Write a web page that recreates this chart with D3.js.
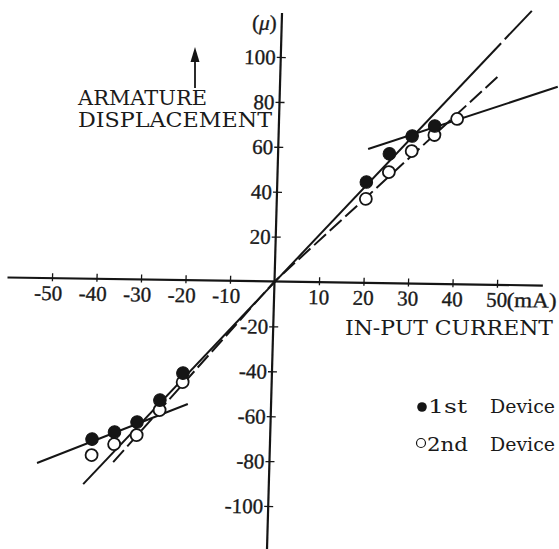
<!DOCTYPE html>
<html><head><meta charset="utf-8">
<script src="https://cdn.jsdelivr.net/npm/d3@7"></script>
<style>
html,body{margin:0;padding:0;background:#fff;}
svg{display:block;}
text{fill:#1a1a1a;}
.tk{font-family:"Liberation Serif","Times New Roman",serif;font-size:21px;stroke:#1a1a1a;stroke-width:0.35px;}
.lb{font-family:"DejaVu Serif",serif;}
</style></head>
<body>
<script>
// ---- data ----
const xTicks = [-50,-40,-30,-20,-10,10,20,30,40,50];
const yTicks = [-100,-80,-60,-40,-20,20,40,60,80,100];
const currentFirst = [-40,-35,-30,-25,-20,20,25,30,35];
const dispFirst    = [-71.4,-68.1,-63.5,-53.6,-41.4,44.9,57.6,65.7,70.3];
const currentSecond = [-40,-35,-30,-25,-20,20,25,30,35,40];
const dispSecond    = [-78.5,-73.5,-69.3,-58.0,-45.4,37.4,49.5,59.0,66.3,73.6];
const fitFirstA  = [[-41.7,-91.5],[49.4,107.6]];
const fitFirstB  = [[50.2,109.4],[56.1,122.2]];
const fitSecond  = [[-35.1,-81.5],[0,0],[49.3,93.5]];
const satUpper   = [[20.2,59.6],[62.4,88.6]];
const satLower   = [[-52.2,-82.4],[-18.7,-55.1]];
const xAxisRange = [-60,60.3];
const yAxisRange = [-122,119.6];
const legendLabels = [["1st","Device"],["2nd","Device"]];

// ---- layout ----
const W=559,H=549, ox=274.5, oy=281.5;
const svg=d3.select("body").append("svg").attr("width",W).attr("height",H);
const x=d3.scaleLinear().domain([-50,50]).range([ox-222.5, ox+222.5]);
const y=d3.scaleLinear().domain([-100,100]).range([oy+224.5, oy-224.5]);
const ink="#151515";

const g=svg.append("g").attr("transform",`translate(${ox},${oy}) matrix(1,0.015,-0.028,1,0,0) translate(${-ox},${-oy})`);

// axis lines
g.append("line").attr("x1",x(xAxisRange[0])).attr("x2",x(xAxisRange[1])).attr("y1",y(0)).attr("y2",y(0))
 .attr("stroke",ink).attr("stroke-width",2.2);
g.append("line").attr("x1",x(0)).attr("x2",x(0)).attr("y1",y(yAxisRange[0])).attr("y2",y(yAxisRange[1]))
 .attr("stroke",ink).attr("stroke-width",2.2);

// x axis ticks
const xa=g.append("g").attr("transform",`translate(0,${y(0)})`)
 .call(d3.axisBottom(x).tickValues(xTicks).tickSizeOuter(0).tickFormat(d=>String(d)));
xa.attr("font-family",null).attr("font-size",null);
xa.select(".domain").remove();
xa.selectAll(".tick line").attr("y1",-5).attr("y2",3).attr("stroke",ink).attr("stroke-width",1.3);
xa.selectAll(".tick text").attr("class","tk").attr("y",22).attr("dy",null).attr("x",10).attr("text-anchor","end")
 .attr("fill","#1a1a1a");

// (mA) unit
g.append("text").attr("class","tk").attr("x",x(50)+10).attr("y",y(0)+22)
 .attr("textLength",50).attr("lengthAdjust","spacingAndGlyphs").text("(mA)");

// y axis ticks
const ya=g.append("g").attr("transform",`translate(${x(0)},0)`)
 .call(d3.axisLeft(y).tickValues(yTicks).tickSizeOuter(0).tickFormat(d=>String(d)));
ya.attr("font-family",null).attr("font-size",null);
ya.select(".domain").remove();
ya.selectAll(".tick line").attr("x1",5).attr("x2",-4).attr("stroke",ink).attr("stroke-width",1.3);
ya.selectAll(".tick text").attr("class","tk").attr("x",-5).attr("dy","0.33em").attr("text-anchor","end")
 .attr("fill","#1a1a1a");

// (μ) unit
const mu=g.append("text").attr("class","tk").attr("x",x(0)-5).attr("y",y(100)-27).attr("text-anchor","end");
mu.append("tspan").text("(");
mu.append("tspan").attr("font-style","italic").text("μ");
mu.append("tspan").text(")");

// lines
const line=d3.line().x(d=>x(d[0])).y(d=>y(d[1]));
[fitFirstA,fitFirstB,satUpper,satLower].forEach(seg=>{
  g.append("path").attr("d",line(seg)).attr("fill","none").attr("stroke",ink).attr("stroke-width",2);
});
g.append("path").attr("d",line(fitSecond)).attr("fill","none").attr("stroke",ink).attr("stroke-width",2)
 .attr("stroke-dasharray","16,5");

// markers
g.selectAll("circle.second").data(currentSecond).join("circle").attr("class","second")
 .attr("cx",(d)=>x(d)).attr("cy",(d,i)=>y(dispSecond[i])).attr("r",6)
 .attr("fill","#fff").attr("stroke",ink).attr("stroke-width",1.8);
g.selectAll("circle.first").data(currentFirst).join("circle").attr("class","first")
 .attr("cx",(d)=>x(d)).attr("cy",(d,i)=>y(dispFirst[i])).attr("r",6.3)
 .attr("fill",ink).attr("stroke",ink).attr("stroke-width",1);

// vertical label with arrow
svg.append("line").attr("x1",195).attr("x2",195).attr("y1",88).attr("y2",58).attr("stroke",ink).attr("stroke-width",1.8);
svg.append("path").attr("d","M195,47 L190.5,62 L199.5,62 Z").attr("fill",ink);
svg.append("text").attr("class","lb").attr("x",78).attr("y",105).attr("font-size",20.5)
 .attr("textLength",129).attr("lengthAdjust","spacingAndGlyphs").text("ARMATURE");
svg.append("text").attr("class","lb").attr("x",78).attr("y",127).attr("font-size",20.5)
 .attr("textLength",194).attr("lengthAdjust","spacingAndGlyphs").text("DISPLACEMENT");
svg.append("text").attr("class","lb").attr("x",345).attr("y",335).attr("font-size",21)
 .attr("textLength",208).attr("lengthAdjust","spacingAndGlyphs").text("IN-PUT CURRENT");

// legend
const lg=svg.append("g");
lg.append("circle").attr("cx",422).attr("cy",407).attr("r",4.8).attr("fill",ink);
lg.append("circle").attr("cx",421).attr("cy",443).attr("r",4.5).attr("fill","#fff").attr("stroke",ink).attr("stroke-width",1.2);
legendLabels.forEach((l,i)=>{
  const by = i===0 ? 413 : 451;
  lg.append("text").attr("class","lb").attr("x",i===0?428:427).attr("y",by).attr("font-size",19)
    .attr("textLength",i===0?39:41).attr("lengthAdjust","spacingAndGlyphs").text(l[0]);
  lg.append("text").attr("class","lb").attr("x",490).attr("y",by).attr("font-size",19)
    .attr("textLength",65).attr("lengthAdjust","spacingAndGlyphs").text(l[1]);
});
</script>
</body></html>
